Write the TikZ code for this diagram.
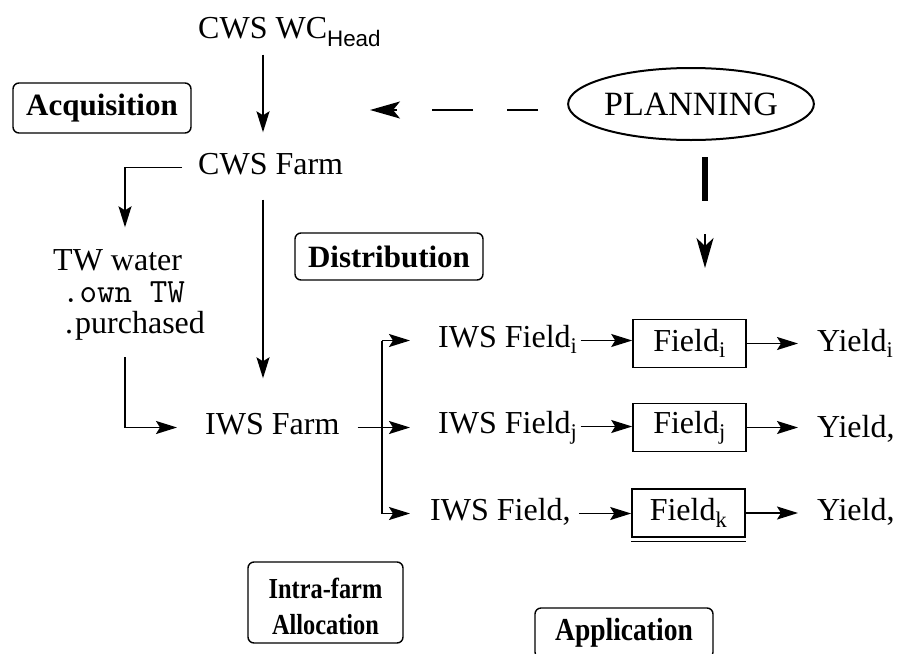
\documentclass[tikz,border=0pt]{standalone}
\usepackage{fontspec}
\setmainfont{Liberation Serif}
\setsansfont{Liberation Sans}
\newfontfamily\condbf{Liberation Serif}[FakeStretch=0.84]
\newfontfamily\semicondbf{Liberation Serif}[FakeStretch=0.86]
\usetikzlibrary{arrows.meta,shapes.geometric,calc}
\begin{document}
\begin{tikzpicture}[x=1pt,y=-1pt,
  txt/.style={inner sep=0pt,text height=21pt,text depth=7pt,font=\fontsize{32}{36}\selectfont},
  lbl/.style={draw,rounded corners=6pt,line width=1.4pt,inner sep=0pt,font=\fontsize{31}{35}\selectfont\bfseries},
  fieldbox/.style={draw,line width=1.6pt,minimum width=113pt,minimum height=48pt,inner sep=0pt,font=\fontsize{32}{36}\selectfont},
  arr/.style={line width=1.6pt,-{Stealth[length=21pt,width=13pt,inset=4pt]}},
  bigarr/.style={line width=1.8pt,-{Stealth[length=30pt,width=17pt,inset=7pt]}},
  ln/.style={line width=1.6pt}]
\useasboundingbox (0,0) rectangle (909,653);
\clip (0,0) rectangle (909,653);

% helper coordinates
\coordinate (vx) at (263,0);
\coordinate (tx) at (125,0);
\coordinate (bx) at (382,0);
\coordinate (px) at (705,0);
\coordinate (dtip) at (370,110);
\coordinate (ptip) at (705,268);

% text nodes
\node[txt,anchor=west] (cwswc) at (198,31.5) {CWS WC\textsubscript{\sffamily Head}};
\node[txt,anchor=west] (cwsfarm) at (198,167.5) {CWS Farm};
\node[txt,anchor=west] (tw1) at (53,263.5) {TW water};
\node[txt,anchor=west,font=\ttfamily\fontsize{34}{38}\selectfont] (tw2) at (62,295) {.own TW};
\node[txt,anchor=west] (tw3) at (65,326) {.\kern2pt purchased};
\node[txt,anchor=west] (iwsfarm) at (205,427.5) {IWS Farm};
\node[txt,anchor=west] (iwsfi) at (438,340.5) {IWS Field\textsubscript{i}};
\node[txt,anchor=west] (iwsfj) at (438,426.5) {IWS Field\textsubscript{j}};
\node[txt,anchor=west] (iwsfk) at (430,513.5) {IWS Field,};
\node[txt,anchor=west] (yi) at (817,344.5) {Yield\textsubscript{i}};
\node[txt,anchor=west] (yj) at (817,430.5) {Yield,};
\node[txt,anchor=west] (yk) at (817,513.5) {Yield,};

% boxes
\node[lbl,minimum width=178pt,minimum height=50pt] (acq) at (102,108) {Acquisition};
\node[lbl,minimum width=188pt,minimum height=47pt] (dist) at (389,256.5) {Distribution};
\node[lbl,minimum width=155pt,minimum height=81pt] (intra) at (325.5,602.5) {};
\node[align=center,inner sep=0pt,font=\condbf\bfseries\fontsize{29}{36}\selectfont] (intratxt) at (325.5,606) {Intra-farm\\Allocation};
\node[lbl,minimum width=178pt,minimum height=50pt,font=\semicondbf\bfseries\fontsize{32}{35}\selectfont] (appl) at (624,633) {Application};
\node[draw,ellipse,line width=2pt,minimum width=218pt,minimum height=72pt,inner sep=0pt,font=\fontsize{34}{38}\selectfont] (plan) at (691,104) {PLANNING};
\node[fieldbox] (fi) at (689.5,343.5) {Field\textsubscript{i}};
\node[fieldbox] (fj) at (689.5,427.5) {Field\textsubscript{j}};
\node[fieldbox] (fk) at (688.5,513) {Field\textsubscript{k}};
\draw[line width=1pt] ([yshift=-4pt]fk.south west) -- ([yshift=-4pt]fk.south east);

% connectors
\draw[arr,shorten <=9pt,shorten >=21pt] (cwswc.south -| vx) -- (cwsfarm.north -| vx);
\draw[arr,shorten <=16pt,shorten >=22pt] (cwsfarm.west) -| (tw1.north -| tx);
\draw[arr,shorten <=18pt,shorten >=35pt] (cwsfarm.south -| vx) -- (iwsfarm.north -| vx);
\draw[arr,shorten <=17pt,shorten >=28pt] (tw3.south -| tx) |- (iwsfarm.west);

% dashed planning arrow
\draw[bigarr,dash pattern=on 31pt off 34pt on 41pt off 35pt,shorten <=29pt] (plan.west |- dtip) -- (dtip);

% planning down
\draw[line width=6pt] ($(plan.south -| px)+(0,16)$) -- ($(plan.south -| px)+(0,60)$);
\draw[line width=2pt,-{Stealth[length=30pt,width=17pt,inset=8pt]}] ($(ptip)+(0,-34)$) -- (ptip);

% branching to fields
\draw[ln] (iwsfi.west -| bx) -- (iwsfk.west -| bx);
\draw[arr,shorten >=28pt] (iwsfi.west -| bx) -- (iwsfi.west);
\draw[arr,shorten <=18pt,shorten >=28pt] (iwsfarm.east) -- (iwsfarm.east -| iwsfj.west);
\draw[arr,shorten >=20pt] (iwsfk.west -| bx) -- (iwsfk.west);

% rows
\draw[arr,shorten <=3pt] (iwsfi.east) -- (iwsfi.east -| fi.west);
\draw[arr,shorten <=3pt] (iwsfj.east) -- (iwsfj.east -| fj.west);
\draw[arr,shorten <=8pt] (iwsfk.east) -- (iwsfk.east -| fk.west);
\draw[arr,shorten >=19pt] (fi.east) -- (fi.east -| yi.west);
\draw[arr,shorten >=19pt] (fj.east) -- (fj.east -| yj.west);
\draw[arr,shorten >=19pt] (fk.east) -- (fk.east -| yk.west);
\end{tikzpicture}
\end{document}
